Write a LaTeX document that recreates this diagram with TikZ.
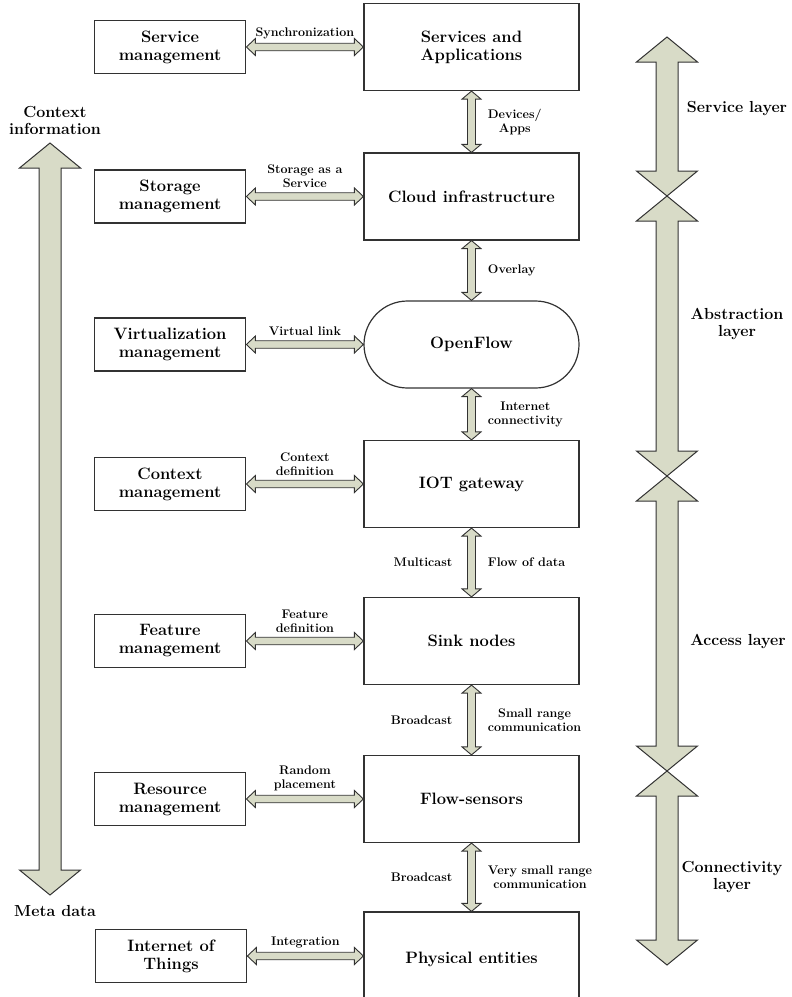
\documentclass[tikz,border=0pt]{standalone}
\usepackage{fontspec}
\usetikzlibrary{calc,positioning}
\definecolor{linkfill}{RGB}{216,219,199}
\definecolor{edgegrey}{RGB}{50,50,50}
% flat double arrow from a side box to a main box
\newcommand{\hlink}[3]{%
  \draw[link] let \p1=(#1.east), \p2=(#2.west) in
    (\x1,\y1) -- ++(9pt,8.5pt) -- ++(0,-4.75pt) -- (\x2-9pt,\y1+3.75pt) -- ++(0,4.75pt)
    -- (\x2,\y1) -- ++(-9pt,-8.5pt) -- ++(0,4.75pt) -- (\x1+9pt,\y1-3.75pt) -- ++(0,-4.75pt) -- cycle
    ({(\x1+\x2)/2},\y1+7pt) node[linklabel,anchor=south] {#3};}
% upright double arrow between two main boxes
\newcommand{\vlink}[3]{%
  \draw[link] let \p1=(#1.south), \p2=(#2.north) in
    (\x1,\y1) -- ++(9.5pt,-8pt) -- ++(-5.5pt,0) -- (\x1+4pt,\y2+8pt) -- ++(5.5pt,0)
    -- (\x1,\y2) -- ++(-9.5pt,8pt) -- ++(5.5pt,0) -- (\x1-4pt,\y1-8pt) -- ++(-5.5pt,0) -- cycle
    (\x1,{(\y1+\y2)/2}) coordinate (mid-#2)
    (\x1+15pt,{(\y1+\y2)/2}) node[linklabel,anchor=west] {#3};}

\begin{document}
\begin{tikzpicture}[x=1pt,y=-1pt,
    box/.style={draw=edgegrey,line width=1.2pt,minimum width=215pt,minimum height=87pt,
      align=center,inner sep=2pt,font=\bfseries\fontsize{16.5}{18}\selectfont},
    sidebox/.style={box,minimum width=151.5pt,minimum height=53pt},
    link/.style={draw=edgegrey,fill=linkfill,line width=0.9pt,line join=miter},
    bigarrow/.style={draw=edgegrey,fill=linkfill,line width=1pt,line join=miter},
    linklabel/.style={font=\bfseries\fontsize{12.5}{14}\selectfont,align=center,inner sep=1pt},
    layer/.style={font=\bfseries\fontsize{16}{17}\selectfont,align=center}]
  \useasboundingbox (0,0) rectangle (792,997);
  \clip (0,0) rectangle (792,997);

  % main column
  \node[box] (apps) at (471.5,47) {Services and\\Applications};
  \node[box] (cloud) at (471.5,196.5) {Cloud infrastructure};
  \node[box,rounded corners=43.5pt] (openflow) at (471.5,344.5) {OpenFlow};
  \node[box] (gateway) at (471.5,484) {IOT gateway};
  \node[box] (sink) at (471.5,641) {Sink nodes};
  \node[box] (sensors) at (471.5,799) {Flow-sensors};
  \node[box,minimum height=94pt] (physical) at (471.5,959) {Physical entities};

  % management column
  \node[sidebox,left=117pt of apps] (servmgmt) {Service\\management};
  \node[sidebox,left=117pt of cloud] (storemgmt) {Storage\\management};
  \node[sidebox,left=117pt of openflow] (virtmgmt) {Virtualization\\management};
  \node[sidebox,left=117pt of gateway] (ctxmgmt) {Context\\management};
  \node[sidebox,left=117pt of sink] (featmgmt) {Feature\\management};
  \node[sidebox,left=117pt of sensors] (resmgmt) {Resource\\management};
  \node[sidebox] (iot) at (171,956) {Internet of\\Things};

  \hlink{servmgmt}{apps}{Synchronization}
  \hlink{storemgmt}{cloud}{Storage as a\\Service}
  \hlink{virtmgmt}{openflow}{Virtual link}
  \hlink{ctxmgmt}{gateway}{Context\\definition}
  \hlink{featmgmt}{sink}{Feature\\definition}
  \hlink{resmgmt}{sensors}{Random\\placement}
  \hlink{iot}{physical}{Integration}

  \vlink{apps}{cloud}{Devices/\\Apps}
  \vlink{cloud}{openflow}{Overlay}
  \vlink{openflow}{gateway}{Internet\\connectivity}
  \vlink{gateway}{sink}{Flow of data}
  \vlink{sink}{sensors}{Small range\\communication}
  \vlink{sensors}{physical}{Very small range\\communication}
  \node[linklabel,left=18pt of mid-sink] {Multicast};
  \node[linklabel,left=18pt of mid-sensors] {Broadcast};
  \node[linklabel,left=18pt of mid-physical] {Broadcast};

  % side arrows
  \foreach \xc/\yt/\yb in {50/143/895, 667/37/196, 667/196/476, 667/476/771, 667/771/965}
    \draw[bigarrow] (\xc,\yt) -- (\xc+30.5,\yt+25) -- (\xc+11,\yt+25) -- (\xc+11,\yb-25)
      -- (\xc+30.5,\yb-25) -- (\xc,\yb) -- (\xc-30.5,\yb-25) -- (\xc-11,\yb-25)
      -- (\xc-11,\yt+25) -- (\xc-30.5,\yt+25) -- cycle;

  \node[layer] (ctxinfo) at (55,120) {Context\\information};
  \node[layer] (metadata) at (55,911) {Meta data};
  \node[layer] (servlayer) at (737,109) {Service layer};
  \node[layer] (abslayer) at (737,324) {Abstraction\\layer};
  \node[layer] (acclayer) at (738,641) {Access layer};
  \node[layer] (connlayer) at (732,877) {Connectivity\\layer};
\end{tikzpicture}
\end{document}
